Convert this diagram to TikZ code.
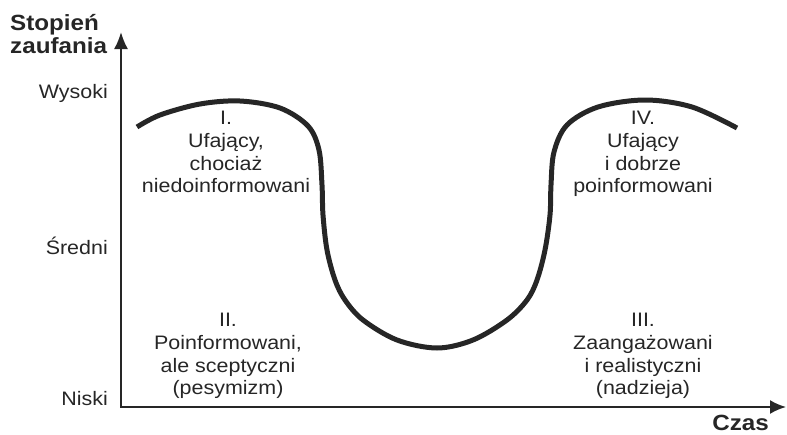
\documentclass[tikz,border=0pt]{standalone}
\usepackage{fontspec}
\setmainfont{Liberation Sans}[FakeStretch=1.1]
\usetikzlibrary{arrows.meta}
\definecolor{ink}{HTML}{262626}
\begin{document}
\begin{tikzpicture}[x=1pt,y=-1pt,
  axis/.style={draw=ink,line width=2pt,line join=miter,
    {Latex[length=17pt,width=14pt]}-{Latex[length=16pt,width=14pt]}},
  trend/.style={draw=ink,line width=5pt},
  lbl/.style={text=ink,inner sep=0pt,font=\fontsize{19.5}{22.7}\selectfont},
  phase/.style={lbl,align=center,anchor=north},
  heading/.style={text=ink,inner sep=0pt,font=\bfseries\fontsize{22}{23}\selectfont}]

\useasboundingbox (0,0) rectangle (787,434);

% axes
\coordinate (O) at (121,407);
\coordinate (ytip) at (121,32);
\coordinate (xtip) at (786,407);
\draw[axis] (ytip) -- (O) -- (xtip);

% axis titles
\node[heading,anchor=north west,align=left] (ytitle) at (10,14) {Stopień\\zaufania};
\node[heading,anchor=base east] (xtitle) at (769,430.5) {Czas};

% trust levels
\node[lbl,anchor=base east] (high) at (108,98) {Wysoki};
\node[lbl,anchor=base east] (mid) at (108,254) {Średni};
\node[lbl,anchor=base east] (low) at (108,405) {Niski};

% trust curve over time
\draw[trend] plot[smooth,tension=0.55] coordinates {
  (137,127) (160,115) (200,104) (240,101) (280,108) (308,126) (319,150)
  (322,185) (323,215) (327,250) (335,280) (345,300) (363,320) (397,340)
  (437,348) (473,340) (507,320) (527,300) (537,280) (545,250) (550,215)
  (551,185) (554,152) (567,125) (598,107) (645,100) (692,107) (737,128)};

% phases
\node[phase] (p1) at (226,111) {I.\\Ufający,\\chociaż\\niedoinformowani};
\node[phase] (p2) at (228,313) {II.\\Poinformowani,\\ale sceptyczni\\(pesymizm)};
\node[phase] (p3) at (643,313) {III.\\Zaangażowani\\i realistyczni\\(nadzieja)};
\node[phase] (p4) at (643,111) {IV.\\Ufający\\i dobrze\\poinformowani};
\end{tikzpicture}
\end{document}
